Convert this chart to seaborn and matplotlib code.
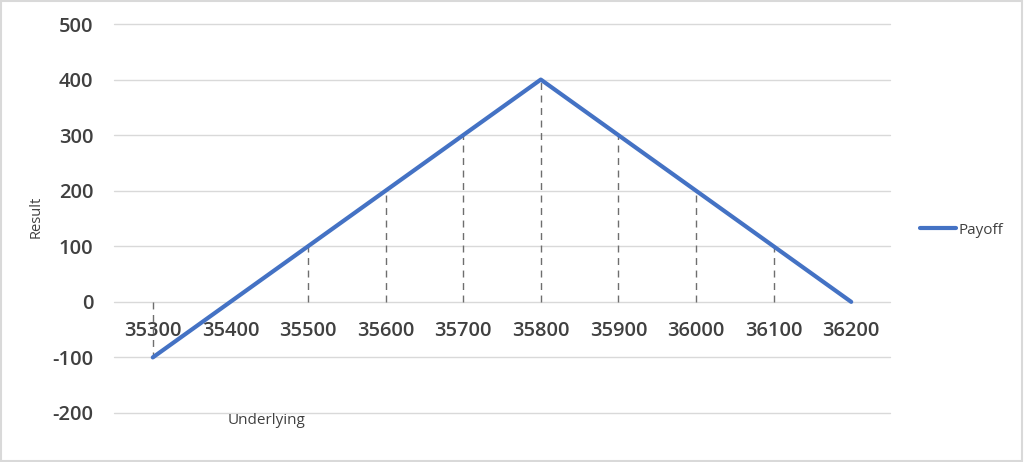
import matplotlib
matplotlib.use("Agg")
import matplotlib.pyplot as plt
import seaborn as sns
import pandas as pd
from matplotlib.lines import Line2D
from matplotlib.patches import Rectangle

underlying = [35300, 35400, 35500, 35600, 35700, 35800, 35900, 36000, 36100, 36200]
payoff = [-100, 0, 100, 200, 300, 400, 300, 200, 100, 0]
y_ticks = [-200, -100, 0, 100, 200, 300, 400, 500]

df = pd.DataFrame({"Underlying": underlying, "Payoff": payoff})

sns.set_theme(style="white")
plt.rcParams['font.family'] = ['Open Sans', 'DejaVu Sans']

fig = plt.figure(figsize=(10.24, 4.62), dpi=100)
ax = fig.add_axes([114/1024, 49/462, 776/1024, 389/462])

blue = "#4472C4"
tick_col = "#404040"

for s in ax.spines.values():
    s.set_visible(False)
ax.spines['bottom'].set_position(('data', 0))

for yv in y_ticks:
    ax.axhline(yv, color="#D9D9D9", lw=1.0, zorder=0, clip_on=False)

ax.vlines(df["Underlying"], 0, df["Payoff"], colors="#6E6E6E", linestyles=(0, (5, 4)), lw=1.0, zorder=1)

sns.lineplot(data=df, x="Underlying", y="Payoff", ax=ax, color=blue, lw=3.0, zorder=3,
             legend=False, solid_capstyle="round")

ax.set_xlim(underlying[0] - 50, underlying[-1] + 50)
ax.set_ylim(-200, 500)
ax.set_yticks(y_ticks)
ax.set_yticklabels([str(v) for v in y_ticks], fontsize=14.5, color=tick_col, fontweight="semibold")
ax.set_xticks(underlying)
ax.set_xticklabels([str(v) for v in underlying], fontsize=14.5, color=tick_col, fontweight="semibold")

ax.tick_params(axis='x', length=0, pad=14)
ax.tick_params(axis='y', length=0, pad=15)

ax.set_xlabel("")
ax.set_ylabel("")
fig.text(36/1024, 1 - 217/462, "Result", rotation=90, ha="center", va="center",
         fontsize=10.5, color=tick_col)
fig.text(267/1024, 1 - 420/462, "Underlying", ha="center", va="center",
         fontsize=11, color=tick_col)

fig.legend(handles=[Line2D([0], [0], color=blue, lw=3.0)], labels=["Payoff"],
           loc="center left", bbox_to_anchor=(906/1024, 1 - 230/462), frameon=False,
           fontsize=11, handlelength=2.4, handletextpad=0.15, labelcolor=tick_col)

fig.patches.append(Rectangle((0.001, 0.002), 0.997, 0.995, transform=fig.transFigure,
                             fill=False, edgecolor="#D9D9D9", lw=1.5))

fig.savefig("out.png", dpi=100)
